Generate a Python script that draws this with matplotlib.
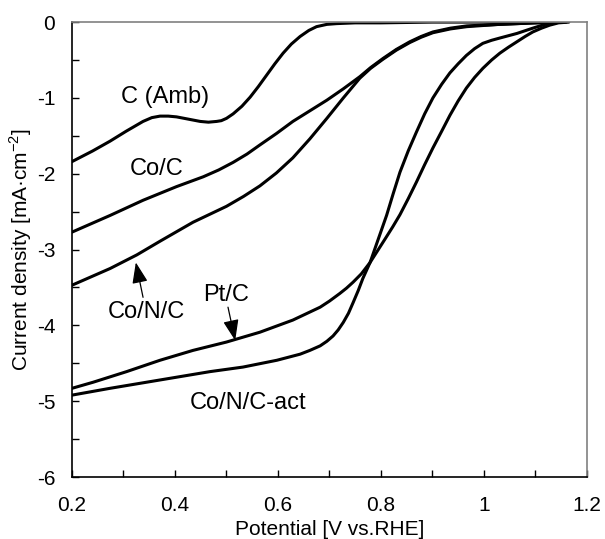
import numpy as np
import matplotlib
matplotlib.use("Agg")
import matplotlib.pyplot as plt

plt.rcParams['font.family'] = ['Liberation Sans', 'DejaVu Sans']
plt.rcParams['axes.unicode_minus'] = False

# C (Amb)
x_amb = [0.2, 0.24, 0.274, 0.305, 0.338, 0.355, 0.371, 0.387, 0.403, 0.426, 0.449, 0.465, 0.481, 0.49, 0.50, 0.513,
         0.53, 0.546, 0.562, 0.578, 0.594, 0.61, 0.626, 0.643, 0.66, 0.675, 0.695, 0.714, 0.75, 0.80, 0.90, 1.00, 1.10, 1.16]
y_amb = [-1.84, -1.70, -1.57, -1.44, -1.31, -1.26, -1.24, -1.24, -1.25, -1.28, -1.31, -1.32, -1.31, -1.30, -1.27, -1.21,
         -1.11, -0.99, -0.85, -0.70, -0.55, -0.41, -0.29, -0.19, -0.11, -0.06, -0.03, -0.02, -0.01, -0.01, 0, 0, 0, 0]

# Co/C
x_coc = [0.2, 0.274, 0.338, 0.403, 0.455, 0.485, 0.513, 0.54, 0.565, 0.597, 0.629, 0.662, 0.695, 0.727, 0.759, 0.78, 0.804,
         0.83, 0.856, 0.878, 0.901, 0.935, 0.967, 1.03, 1.10, 1.15]
y_coc = [-2.77, -2.55, -2.35, -2.17, -2.04, -1.95, -1.85, -1.74, -1.62, -1.47, -1.31, -1.17, -1.03, -0.88, -0.72, -0.60, -0.48,
         -0.36, -0.26, -0.19, -0.13, -0.08, -0.05, -0.03, -0.01, 0]

# Co/N/C
x_conc = [0.2, 0.274, 0.326, 0.371, 0.435, 0.5, 0.533, 0.565, 0.597, 0.629, 0.662, 0.695, 0.727, 0.759, 0.78, 0.804,
          0.83, 0.856, 0.878, 0.901, 0.935, 0.967, 1.03, 1.10, 1.15]
y_conc = [-3.47, -3.25, -3.07, -2.89, -2.64, -2.43, -2.30, -2.16, -1.99, -1.79, -1.54, -1.27, -1.00, -0.74, -0.61, -0.49,
          -0.37, -0.27, -0.20, -0.14, -0.09, -0.06, -0.03, -0.01, 0]

# Pt/C
x_pt = [0.2, 0.241, 0.306, 0.371, 0.435, 0.5, 0.565, 0.629, 0.682, 0.70, 0.72, 0.733, 0.746, 0.762, 0.779, 0.795, 0.81,
        0.823, 0.837, 0.853, 0.869, 0.885, 0.901, 0.918, 0.934, 0.95, 0.966, 0.982, 0.998, 1.015, 1.031, 1.048, 1.064,
        1.08, 1.095, 1.112, 1.128, 1.145, 1.165]
y_pt = [-4.83, -4.75, -4.61, -4.46, -4.33, -4.22, -4.09, -3.93, -3.76, -3.68, -3.58, -3.51, -3.43, -3.32, -3.17, -3.00, -2.84,
        -2.70, -2.54, -2.33, -2.11, -1.88, -1.66, -1.44, -1.23, -1.04, -0.87, -0.73, -0.61, -0.50, -0.41, -0.33, -0.26,
        -0.19, -0.13, -0.08, -0.04, -0.01, 0]

# Co/N/C-act
x_act = [0.2, 0.274, 0.371, 0.468, 0.532, 0.598, 0.643, 0.662, 0.682, 0.695, 0.707, 0.717, 0.727, 0.737, 0.746, 0.756,
         0.765, 0.779, 0.795, 0.811, 0.824, 0.837, 0.853, 0.869, 0.885, 0.901, 0.918, 0.934, 0.95, 0.966, 0.982, 0.998,
         1.015, 1.031, 1.064, 1.095, 1.128, 1.15]
y_act = [-4.92, -4.83, -4.72, -4.61, -4.55, -4.46, -4.38, -4.33, -4.27, -4.21, -4.14, -4.06, -3.96, -3.84, -3.70, -3.54,
         -3.38, -3.17, -2.86, -2.55, -2.26, -1.98, -1.70, -1.45, -1.21, -1.00, -0.82, -0.67, -0.55, -0.44, -0.35, -0.28,
         -0.24, -0.21, -0.15, -0.08, -0.01, 0]

fig = plt.figure(figsize=(6.05, 5.39), dpi=100)
ax = fig.add_axes([0.119, 0.115, 0.851, 0.844])

for xs, ys in [(x_amb, y_amb), (x_coc, y_coc), (x_conc, y_conc), (x_pt, y_pt), (x_act, y_act)]:
    ax.plot(xs, ys, color='black', lw=2.2, solid_capstyle='round', solid_joinstyle='round')

ax.set_xlim(0.2, 1.2)
ax.set_ylim(-6, 0)
ax.set_xticks([0.2, 0.4, 0.6, 0.8, 1.0, 1.2])
ax.set_xticklabels(['0.2', '0.4', '0.6', '0.8', '1', '1.2'])
ax.set_xticks(np.arange(0.3, 1.2, 0.2), minor=True)
ax.set_yticks(range(-6, 1))
ax.set_yticks(np.arange(-5.5, 0, 1.0), minor=True)
ax.tick_params(which='both', direction='in', length=5, width=1, labelsize=15)
ax.tick_params(axis='x', which='both', pad=14)
ax.tick_params(axis='y', which='both', pad=12)
ax.tick_params(which='both', top=False, right=False)

for s in ['top', 'right']:
    ax.spines[s].set_color('#808080')
for s in ax.spines.values():
    s.set_linewidth(1.2)

ax.set_xlabel('Potential [V vs.RHE]', fontsize=15, labelpad=3)
ax.set_ylabel('Current density [mA·cm$^{\\mathregular{-2}}$]', fontsize=15, labelpad=2)

fs = 17
ax.text(0.381, -0.985, 'C (Amb)', fontsize=fs, ha='center', va='center')
ax.text(0.364, -1.94, 'Co/C', fontsize=fs, ha='center', va='center')
ax.text(0.542, -5.03, 'Co/N/C-act', fontsize=fs, ha='center', va='center')
ax.text(0.345, -3.82, 'Co/N/C', fontsize=fs, ha='center', va='center')
ax.text(0.500, -3.60, 'Pt/C', fontsize=fs, ha='center', va='center')
ax.annotate('', xy=(0.324, -3.17), xytext=(0.338, -3.63),
            arrowprops=dict(arrowstyle='-|>,head_length=0.8,head_width=0.3', color='black', lw=0.9,
                            mutation_scale=16, shrinkA=0, shrinkB=0))
ax.annotate('', xy=(0.517, -4.20), xytext=(0.503, -3.76),
            arrowprops=dict(arrowstyle='-|>,head_length=0.8,head_width=0.3', color='black', lw=0.9,
                            mutation_scale=16, shrinkA=0, shrinkB=0))

fig.savefig('out.png', dpi=100)
